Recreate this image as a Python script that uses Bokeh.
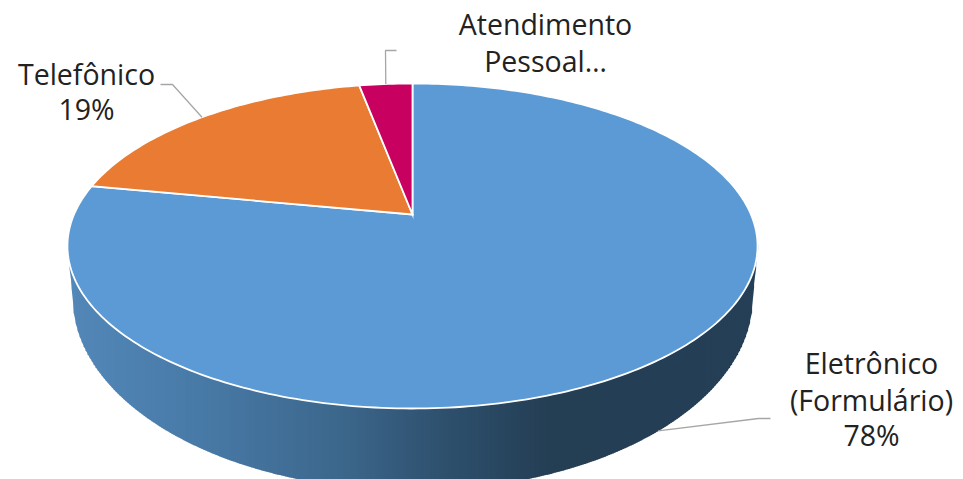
import numpy as np
from bokeh.core.properties import value
from bokeh.embed import file_html
from bokeh.plotting import figure
from bokeh.resources import INLINE

# Contact channels and their shares, clockwise from twelve o'clock
categories = ["Eletrônico (Formulário)", "Telefônico", "Atendimento Pessoal"]
shares = [78, 19, 3]
slice_colors = ["#5B9AD5", "#E97C32", "#C80060"]

# Label lines, with baselines and the elbow of each leader line
label_lines = [["Eletrônico", "(Formulário)", "78%"], ["Telefônico", "19%"], ["Atendimento", "Pessoal…"]]
label_x = [871, 86, 545]
label_y = [[362, 399, 434], [73, 108], [23, 60]]
leader_elbow = [[(758, 418), (770, 418)], [(172, 84), (160, 84)], [(385, 50), (396, 50)]]

# Shading of the pie's outer wall, left to right
wall_stop_x = [69, 200, 340, 450, 550, 756]
wall_stop_rgb = [(82, 135, 184), (72, 122, 167), (60, 103, 140), (45, 79, 108), (36, 62, 84), (36, 63, 86)]

# Tilted-disc projection
APEX_X, APEX_Y = 412, 214
TOP_CY, TOP_RX, TOP_RY = 245.5, 345, 162.5
BASE_CY, BASE_RX, BASE_RY = 297, 340, 193
RIM_LEFT, RIM_RIGHT = 69, 756
SEAM_Y = 268
PERSP = -0.1938
DISC_A, DISC_B = 338.5, 156.4


def project(fraction):
    """Position on the disc's rim for a fraction of the turn, clockwise from the top."""
    t = 2 * np.pi * np.asarray(fraction, dtype=float)
    u, v = np.sin(t), -np.cos(t)
    w = 1 + PERSP * v
    return APEX_X + DISC_A * u / w, APEX_Y + DISC_B * v / w


def top_edge(x):
    return TOP_CY + TOP_RY * np.sqrt(np.clip(1 - ((x - APEX_X) / TOP_RX) ** 2, 0, 1))


def base_edge(x):
    d = np.abs(x - APEX_X)
    y = BASE_CY + BASE_RY * np.sqrt(np.clip(1 - (d / BASE_RX) ** 2, 0, 1))
    reach = APEX_X - RIM_LEFT
    side = d > BASE_RX
    y = np.where(side, SEAM_Y + (BASE_CY - SEAM_Y) * (reach - d) / max(reach - BASE_RX, 1), y)
    return y


p = figure(width=963, height=479, x_range=(0, 963), y_range=(479, 0),
           output_backend="svg", toolbar_location=None, min_border=0,
           outline_line_color=None, background_fill_color="white", border_fill_color="white")
p.axis.visible = False
p.grid.visible = False

# Outer wall as narrow vertical bands so the shading runs left to right
edges = np.arange(RIM_LEFT, RIM_RIGHT + 2, 2.0)
xs, ys, colors = [], [], []
for x0, x1 in zip(edges[:-1], edges[1:]):
    mid = (x0 + x1) / 2
    rgb = [int(round(np.interp(mid, wall_stop_x, [c[i] for c in wall_stop_rgb]))) for i in range(3)]
    xr = [x0, x1 + 0.6, x1 + 0.6, x0]
    xs.append(xr)
    ys.append([top_edge(x0) - 2, top_edge(x1) - 2, float(base_edge(np.array(x1))), float(base_edge(np.array(x0)))])
    colors.append("#%02x%02x%02x" % tuple(rgb))
p.patches(xs, ys, fill_color=colors, line_color=None)

# Disc slices, drawn from the shares
total = sum(shares)
bounds = np.cumsum([0] + shares) / total
wx, wy = [], []
for a, b in zip(bounds[:-1], bounds[1:]):
    f = np.linspace(a, b, max(int((b - a) * 360), 12))
    rx, ry = project(f)
    wx.append([APEX_X] + list(rx))
    wy.append([APEX_Y] + list(ry))
p.patches(wx, wy, fill_color=slice_colors, line_color="white", line_width=1.8, line_join="miter")

# Leader lines from each slice to its label
mids = (bounds[:-1] + bounds[1:]) / 2
anchor_x, anchor_y = project(mids)
anchor_y = anchor_y.copy()
anchor_x = anchor_x.copy()
anchor_x[0] = anchor_x[0] - 8
anchor_y[0] = float(base_edge(np.array(anchor_x[0])))
for ax, ay, elbow in zip(anchor_x, anchor_y, leader_elbow):
    p.line([ax] + [q[0] for q in elbow], [ay] + [q[1] for q in elbow], line_color="#A6A6A6", line_width=1.3)

# Data labels
for lines, lx, baselines in zip(label_lines, label_x, label_y):
    p.text([lx] * len(lines), baselines, text=lines, text_font=value("Open Sans"), text_font_size="28.5px",
           text_color="#222222", text_align="center", text_baseline="alphabetic")

open("out.html", "w").write(file_html(p, INLINE))
